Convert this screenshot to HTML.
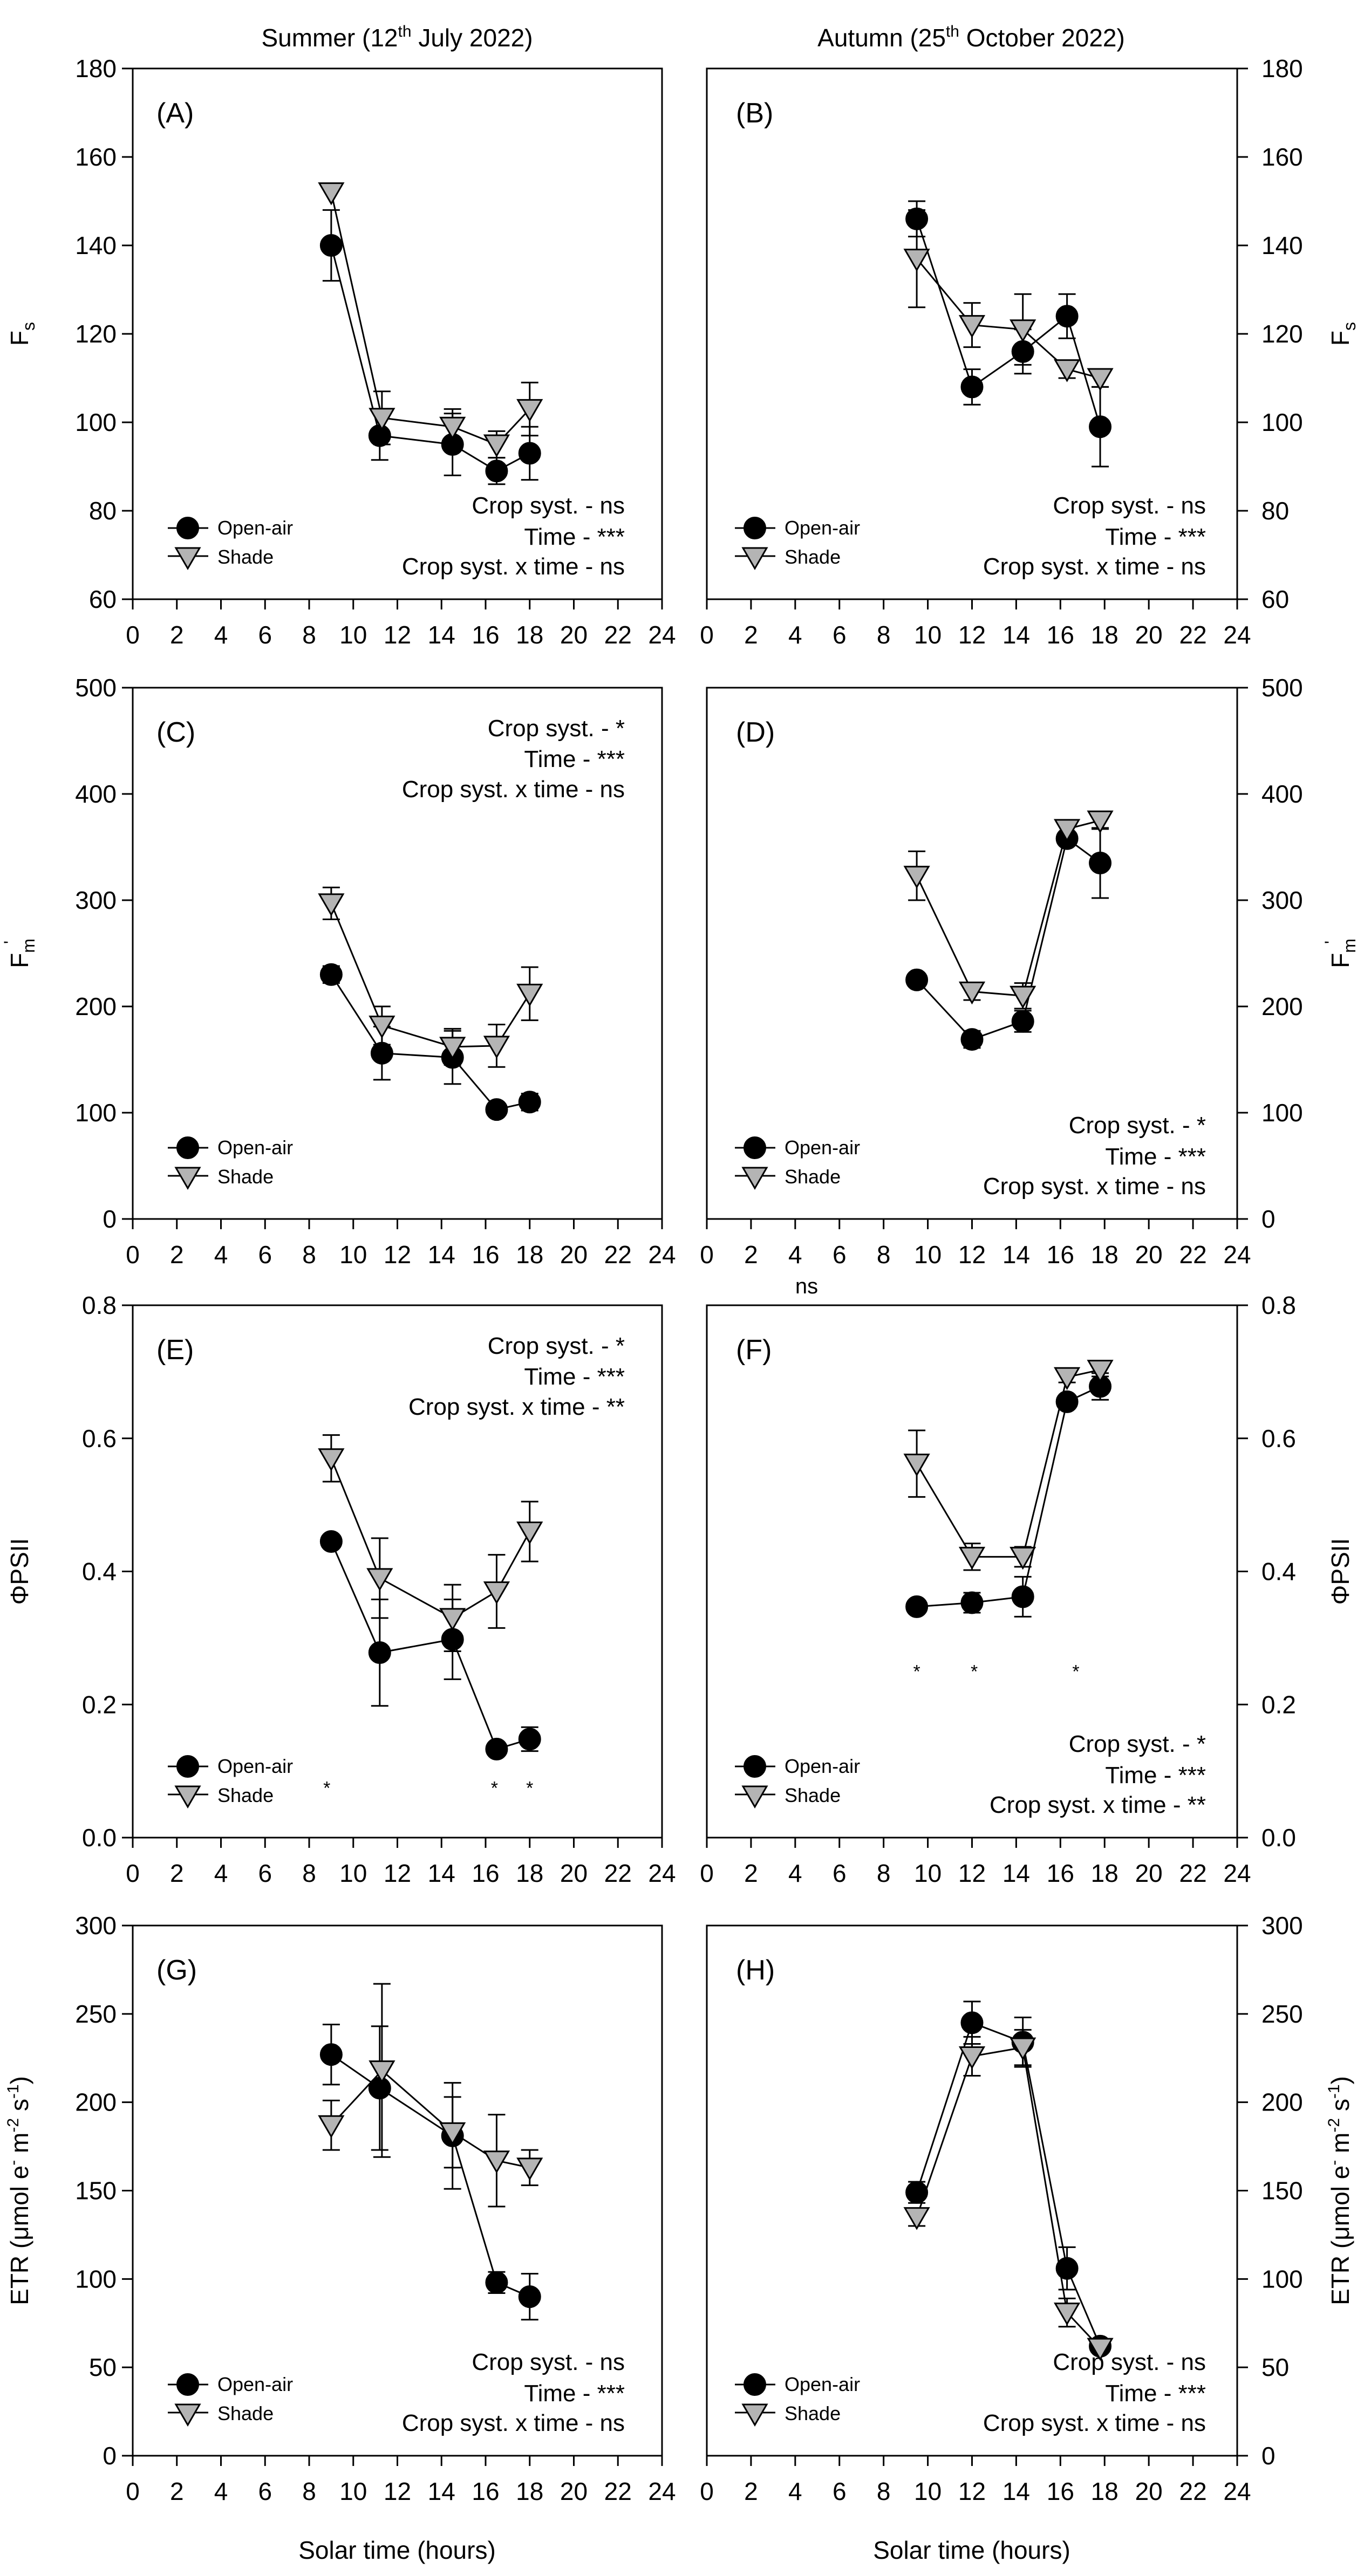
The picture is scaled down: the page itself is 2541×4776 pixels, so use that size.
<!DOCTYPE html>
<html><head><meta charset="utf-8">
<style>
html,body{margin:0;padding:0;background:#fff;}
svg{display:block;font-family:"Liberation Sans",Arial,sans-serif;}
</style></head>
<body>
<svg id="fig" xmlns="http://www.w3.org/2000/svg" width="2541" height="4776" viewBox="0 0 2541 4776">
<rect x="0" y="0" width="2541" height="4776" fill="#fff"/>
<text x="736" y="86" font-size="46" text-anchor="middle">Summer (12<tspan font-size="30" dy="-18">th</tspan><tspan dy="18"> July 2022)</tspan></text>
<text x="1800" y="86" font-size="46" text-anchor="middle">Autumn (25<tspan font-size="30" dy="-18">th</tspan><tspan dy="18"> October 2022)</tspan></text>
<text x="736" y="4744" font-size="46" text-anchor="middle">Solar time (hours)</text>
<text x="1801" y="4744" font-size="46" text-anchor="middle">Solar time (hours)</text>
<text x="1495" y="2398" font-size="40" text-anchor="middle">ns</text>
<g id="plots"></g>
</svg>
<script>
// ---- data (x = solar time h, y = value, e = error) ----
const xA_open = [9, 11.2, 14.5, 16.5, 18];
const yA_open = [140, 97, 95, 89, 93];
const eA_open = [8, 5.5, 7, 3, 6];
const xA_shade = [9, 11.3, 14.5, 16.5, 18];
const yA_shade = [152, 101, 99, 95, 103];
const eA_shade = [0, 6, 4, 3, 6];

const xB_open = [9.5, 12, 14.3, 16.3, 17.8];
const yB_open = [146, 108, 116, 124, 99];
const eB_open = [4, 4, 5, 5, 9];
const xB_shade = [9.5, 12, 14.3, 16.3, 17.8];
const yB_shade = [137, 122, 121, 112, 110];
const eB_shade = [11, 5, 8, 2, 2];

const xC_open = [9, 11.3, 14.5, 16.5, 18];
const yC_open = [230, 156, 152, 103, 110];
const eC_open = [8, 25, 25, 5, 8];
const xC_shade = [9, 11.3, 14.5, 16.5, 18];
const yC_shade = [297, 182, 162, 163, 212];
const eC_shade = [15, 18, 17, 20, 25];

const xD_open = [9.5, 12, 14.3, 16.3, 17.8];
const yD_open = [225, 169, 186, 358, 335];
const eD_open = [5, 8, 10, 5, 33];
const xD_shade = [9.5, 12, 14.3, 16.3, 17.8];
const yD_shade = [323, 214, 210, 367, 375];
const eD_shade = [23, 8, 12, 5, 8];

const xE_open = [9, 11.2, 14.5, 16.5, 18];
const yE_open = [0.445, 0.278, 0.298, 0.133, 0.148];
const eE_open = [0, 0.08, 0.06, 0.005, 0.018];
const xE_shade = [9, 11.2, 14.5, 16.5, 18];
const yE_shade = [0.57, 0.39, 0.33, 0.37, 0.46];
const eE_shade = [0.035, 0.06, 0.05, 0.055, 0.045];
const xE_star = [8.8, 16.4, 18];

const xF_open = [9.5, 12, 14.3, 16.3, 17.8];
const yF_open = [0.347, 0.353, 0.362, 0.655, 0.678];
const eF_open = [0, 0.015, 0.03, 0.008, 0.02];
const xF_shade = [9.5, 12, 14.3, 16.3, 17.8];
const yF_shade = [0.562, 0.422, 0.422, 0.692, 0.703];
const eF_shade = [0.05, 0.02, 0.015, 0.008, 0.01];
const xF_star = [9.5, 12.1, 16.7];

const xG_open = [9, 11.2, 14.5, 16.5, 18];
const yG_open = [227, 208, 181, 98, 90];
const eG_open = [17, 35, 30, 6, 13];
const xG_shade = [9, 11.3, 14.5, 16.5, 18];
const yG_shade = [187, 218, 183, 167, 163];
const eG_shade = [14, 49, 20, 26, 10];

const xH_open = [9.5, 12, 14.3, 16.3, 17.8];
const yH_open = [149, 245, 234, 106, 62];
const eH_open = [6, 12, 14, 12, 2];
const xH_shade = [9.5, 12, 14.3, 16.3, 17.8];
const yH_shade = [135, 226, 231, 81, 61];
const eH_shade = [5, 11, 10, 8, 2];

const xTicks = [0,2,4,6,8,10,12,14,16,18,20,22,24];
const yTicksFs = [60,80,100,120,140,160,180];
const yTicksFm = [0,100,200,300,400,500];
const yTicksPhi = [0,0.2,0.4,0.6,0.8];
const yTicksETR = [0,50,100,150,200,250,300];

const NS = "http://www.w3.org/2000/svg";
const root = document.getElementById('plots');
function mk(tag, attrs, parent){
  const el = document.createElementNS(NS, tag);
  for (const k in attrs) el.setAttribute(k, attrs[k]);
  (parent||root).appendChild(el);
  return el;
}
const COLS = [{x0:246,x1:1227,side:'left'},{x0:1310,x1:2293,side:'right'}];
const ROWS = [[127,1111],[1275,2260],[2420,3407],[3570,4553]];

const panels = [
 {id:'A',col:0,row:0,ymin:60,ymax:180,ticks:yTicksFs,fmt:v=>String(v),xo:xA_open,yo:yA_open,eo:eA_open,xs:xA_shade,ys:yA_shade,es:eA_shade,stats:['Crop syst. - ns','Time - ***','Crop syst. x time - ns'],statsTop:false,title:'fs'},
 {id:'B',col:1,row:0,ymin:60,ymax:180,ticks:yTicksFs,fmt:v=>String(v),xo:xB_open,yo:yB_open,eo:eB_open,xs:xB_shade,ys:yB_shade,es:eB_shade,stats:['Crop syst. - ns','Time - ***','Crop syst. x time - ns'],statsTop:false,title:'fs'},
 {id:'C',col:0,row:1,ymin:0,ymax:500,ticks:yTicksFm,fmt:v=>String(v),xo:xC_open,yo:yC_open,eo:eC_open,xs:xC_shade,ys:yC_shade,es:eC_shade,stats:['Crop syst. - *','Time - ***','Crop syst. x time - ns'],statsTop:true,title:'fm'},
 {id:'D',col:1,row:1,ymin:0,ymax:500,ticks:yTicksFm,fmt:v=>String(v),xo:xD_open,yo:yD_open,eo:eD_open,xs:xD_shade,ys:yD_shade,es:eD_shade,stats:['Crop syst. - *','Time - ***','Crop syst. x time - ns'],statsTop:false,title:'fm'},
 {id:'E',col:0,row:2,ymin:0,ymax:0.8,ticks:yTicksPhi,fmt:v=>v.toFixed(1),xo:xE_open,yo:yE_open,eo:eE_open,xs:xE_shade,ys:yE_shade,es:eE_shade,stats:['Crop syst. - *','Time - ***','Crop syst. x time - **'],statsTop:true,title:'phi',stars:xE_star,starY:0.08},
 {id:'F',col:1,row:2,ymin:0,ymax:0.8,ticks:yTicksPhi,fmt:v=>v.toFixed(1),xo:xF_open,yo:yF_open,eo:eF_open,xs:xF_shade,ys:yF_shade,es:eF_shade,stats:['Crop syst. - *','Time - ***','Crop syst. x time - **'],statsTop:false,title:'phi',stars:xF_star,starY:0.255},
 {id:'G',col:0,row:3,ymin:0,ymax:300,ticks:yTicksETR,fmt:v=>String(v),xo:xG_open,yo:yG_open,eo:eG_open,xs:xG_shade,ys:yG_shade,es:eG_shade,stats:['Crop syst. - ns','Time - ***','Crop syst. x time - ns'],statsTop:false,title:'etr'},
 {id:'H',col:1,row:3,ymin:0,ymax:300,ticks:yTicksETR,fmt:v=>String(v),xo:xH_open,yo:yH_open,eo:eH_open,xs:xH_shade,ys:yH_shade,es:eH_shade,stats:['Crop syst. - ns','Time - ***','Crop syst. x time - ns'],statsTop:false,title:'etr'}
];

function circle(g,cx,cy){ const c = mk('circle',{cx:cx,cy:cy,r:20,fill:'#000',stroke:'#000','stroke-width':2},g); return c; }
function tri(g,cx,cy){ const p = mk('polygon',{points:`${cx-22},${cy-17} ${cx+22},${cy-17} ${cx},${cy+21}`,fill:'#b4b4b4',stroke:'#000','stroke-width':3,'stroke-linejoin':'miter'},g); return p; }

panels.forEach(p=>{
  const C = COLS[p.col], R = ROWS[p.row];
  const x0=C.x0, x1=C.x1, y0=R[0], y1=R[1];
  const sx = v => x0 + (v/24)*(x1-x0);
  const sy = v => y1 - (v-p.ymin)/(p.ymax-p.ymin)*(y1-y0);
  const g = mk('g',{});
  
  
  const frame = mk('rect',{x:x0,y:y0,width:x1-x0,height:y1-y0,fill:'none',stroke:'#000','stroke-width':3},g);
  
  
  // x ticks
  xTicks.forEach(t=>{
    const X = sx(t);
    const tk = mk('line',{x1:X,y1:y1,x2:X,y2:y1+19,stroke:'#000','stroke-width':3},g);
    
    
    const tl = mk('text',{x:X,y:y1+82,'font-size':46,'text-anchor':'middle'},g);
    tl.textContent = t;
    
    
  });
  // y ticks
  p.ticks.forEach(t=>{
    const Y = sy(t);
    let tk, tl;
    if (C.side==='left'){
      tk = mk('line',{x1:x0-20,y1:Y,x2:x0,y2:Y,stroke:'#000','stroke-width':3},g);
      tl = mk('text',{x:x0-30,y:Y+16,'font-size':46,'text-anchor':'end'},g);
    } else {
      tk = mk('line',{x1:x1,y1:Y,x2:x1+20,y2:Y,stroke:'#000','stroke-width':3},g);
      tl = mk('text',{x:x1+45,y:Y+16,'font-size':46,'text-anchor':'start'},g);
    }
    tl.textContent = p.fmt(t);
    
    
    
    
  });
  // panel label
  const lbl = mk('text',{x:x0+(C.side==='left'?44:54),y:y0+100,'font-size':52},g);
  lbl.textContent = '('+p.id+')';
  
  
  // y-axis title
  const tx = C.side==='left' ? 52 : 2500;
  const ty = (y0+y1)/2;
  const yt = mk('text',{x:tx,y:ty,'font-size':46,'text-anchor':'middle',transform:`rotate(-90 ${tx} ${ty})`},g);
  
  
  if (p.title==='fs') yt.innerHTML = 'F<tspan font-size="32" dy="12">s</tspan>';
  else if (p.title==='fm') yt.innerHTML = 'F<tspan font-size="32" dy="12">m</tspan><tspan font-size="32" dy="-34" dx="-10">\'</tspan>';
  else if (p.title==='phi') yt.textContent = 'ΦPSII';
  else yt.innerHTML = 'ETR (μmol e<tspan font-size="30" dy="-18">-</tspan><tspan dy="18"> m</tspan><tspan font-size="30" dy="-18">-2</tspan><tspan dy="18"> s</tspan><tspan font-size="30" dy="-18">-1</tspan><tspan dy="18">)</tspan>';
  // stats
  const sxr = C.side==='left' ? x1-69 : x1-58;
  const sBase = p.statsTop ? [y0+90,y0+147,y0+203] : [y1-159,y1-101,y1-46];
  p.stats.forEach((s,i)=>{
    const st = mk('text',{x:sxr,y:sBase[i],'font-size':44,'text-anchor':'end'},g);
    st.textContent = s;
    
    
  });
  // legend
  const lo = C.side==='left' ? 65 : 52;
  const lg = mk('g',{},g);
  
  
  mk('line',{x1:x0+lo,y1:y1-132,x2:x0+lo+75,y2:y1-132,stroke:'#000','stroke-width':3},lg);
  circle(lg,x0+lo+37,y1-132);
  const t1 = mk('text',{x:x0+lo+92,y:y1-120,'font-size':36},lg); t1.textContent='Open-air';
  
  
  mk('line',{x1:x0+lo,y1:y1-80,x2:x0+lo+75,y2:y1-80,stroke:'#000','stroke-width':3},lg);
  tri(lg,x0+lo+37,y1-78);
  const t2 = mk('text',{x:x0+lo+92,y:y1-66,'font-size':36},lg); t2.textContent='Shade';
  
  
  // stars
  if (p.stars){
    p.stars.forEach(s=>{
      const st = mk('text',{x:sx(s),y:sy(p.starY)+18,'font-size':34,'text-anchor':'middle'},g);
      st.textContent='*';
      
      
    });
  }
  // series
  function series(xs,ys,es,kind){
    const sg = mk('g',{},g);
    
    
    const pts = xs.map((x,i)=>sx(x)+','+sy(ys[i])).join(' ');
    const ln = mk('polyline',{points:pts,fill:'none',stroke:'#000','stroke-width':3},sg);
    
    
    xs.forEach((x,i)=>{
      if (es[i]>0){
        const X=sx(x), a=sy(ys[i]+es[i]), b=sy(ys[i]-es[i]);
        const eb = mk('path',{d:`M${X},${a}V${b}M${X-16},${a}H${X+16}M${X-16},${b}H${X+16}`,stroke:'#000','stroke-width':3,fill:'none'},sg);
        
        
      }
    });
    xs.forEach((x,i)=>{
      const m = kind==='open-air' ? circle(sg,sx(x),sy(ys[i])) : tri(sg,sx(x),sy(ys[i]));
      
      
    });
  }
  series(p.xo,p.yo,p.eo,'open-air');
  series(p.xs,p.ys,p.es,'shade');
});
</script>
</body></html>
